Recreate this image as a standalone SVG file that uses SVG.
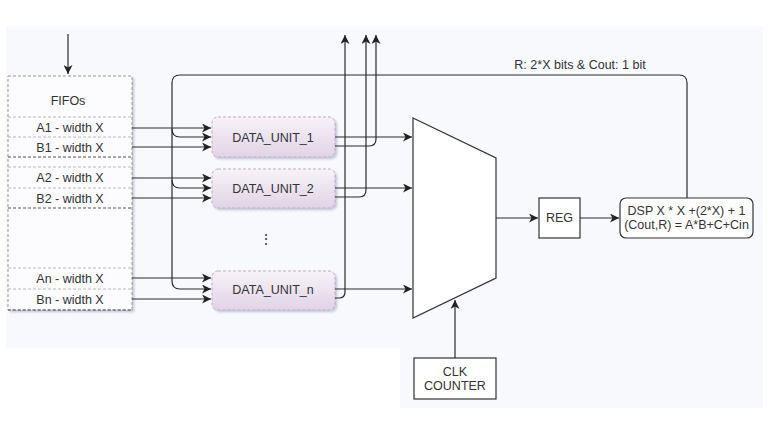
<svg xmlns="http://www.w3.org/2000/svg" width="768" height="432" viewBox="0 0 768 432">
<defs>
<marker id="arr" markerWidth="10" markerHeight="9" refX="9" refY="4.5" orient="auto" markerUnits="userSpaceOnUse">
<path d="M0,0 L9,4.5 L0,9 L2.5,4.5 z" fill="#222"/>
</marker>
<linearGradient id="du" x1="0" y1="0" x2="0" y2="1">
<stop offset="0" stop-color="#f7f3f8"/>
<stop offset="1" stop-color="#e0d3e6"/>
</linearGradient>
<filter id="sh" x="-10%" y="-10%" width="130%" height="140%">
<feDropShadow dx="2" dy="2" stdDeviation="1.2" flood-color="#8890b0" flood-opacity="0.45"/>
</filter>
<style>
text{font-family:"Liberation Sans",Arial,sans-serif;font-size:12.5px;fill:#333;text-anchor:middle}
.ln{fill:none;stroke:#2a2a2a;stroke-width:1.2}
.box{fill:#fff;stroke:#333;stroke-width:1.2}
.du{fill:url(#du);stroke:#c3a9cc;stroke-width:1;stroke-dasharray:3,2}
.sep{stroke:#b8b8b8;stroke-width:1;stroke-dasharray:3,2}
.sepd{stroke:#555;stroke-width:1;stroke-dasharray:3,2}
</style>
</defs>
<rect x="6" y="26" width="757" height="322" fill="#f8f9fd"/>
<rect x="400" y="340" width="363" height="68" fill="#f8f9fd"/>

<g id="fifos">
<rect x="8" y="76" width="124" height="234" fill="#fcfcfe" stroke="#999" stroke-width="1" stroke-dasharray="3,2" filter="url(#sh)"/>
<text x="68" y="105">FIFOs</text>
<line class="sep" x1="8" y1="117" x2="132" y2="117"/>
<line class="sep" x1="8" y1="137" x2="132" y2="137"/>
<line class="sepd" x1="8" y1="157" x2="132" y2="157"/>
<line class="sep" x1="8" y1="167" x2="132" y2="167"/>
<line class="sep" x1="8" y1="188" x2="132" y2="188"/>
<line class="sepd" x1="8" y1="208" x2="132" y2="208"/>
<line class="sep" x1="8" y1="268" x2="132" y2="268"/>
<line class="sep" x1="8" y1="289" x2="132" y2="289"/>
<line class="sepd" x1="8" y1="310" x2="132" y2="310"/>
<text x="70" y="132">A1 - width X</text>
<text x="70" y="152">B1 - width X</text>
<text x="70" y="182">A2 - width X</text>
<text x="70" y="203">B2 - width X</text>
<text x="70" y="283">An - width X</text>
<text x="70" y="304">Bn - width X</text>
</g>

<g id="du1">
<rect class="du" x="212" y="117" width="123" height="40" rx="6" filter="url(#sh)"/>
<text x="273" y="141.5">DATA_UNIT_1</text>
</g>
<g id="du2">
<rect class="du" x="212" y="169" width="123" height="39" rx="6" filter="url(#sh)"/>
<text x="273" y="193">DATA_UNIT_2</text>
</g>
<g id="dots">
<text x="266" y="244" style="font-size:14px">⋮</text>
</g>
<g id="dun">
<rect class="du" x="212" y="271" width="123" height="39" rx="6" filter="url(#sh)"/>
<text x="273" y="294">DATA_UNIT_n</text>
</g>

<g id="mux">
<path d="M413,118 L496,158 L496,278 L413,318 Z" fill="#fff" stroke="#333" stroke-width="1.2"/>
</g>
<g id="reg">
<rect class="box" x="539" y="198" width="41" height="40"/>
<text x="559.5" y="222">REG</text>
</g>
<g id="dsp">
<rect class="box" x="620" y="198" width="133" height="40" rx="6"/>
<text x="686.5" y="215">DSP X * X +(2*X) + 1</text>
<text x="686.5" y="229">(Cout,R) = A*B+C+Cin</text>
</g>
<g id="clk">
<rect class="box" x="414" y="358" width="82" height="41"/>
<text x="455" y="376">CLK</text>
<text x="455" y="390">COUNTER</text>
</g>

<g id="connectors">
<path class="ln" d="M68,34 V74" marker-end="url(#arr)"/>
<path class="ln" d="M132,128 H211" marker-end="url(#arr)"/>
<path class="ln" d="M132,147 H211" marker-end="url(#arr)"/>
<path class="ln" d="M132,178 H211" marker-end="url(#arr)"/>
<path class="ln" d="M132,198 H211" marker-end="url(#arr)"/>
<path class="ln" d="M132,278 H211" marker-end="url(#arr)"/>
<path class="ln" d="M132,299 H211" marker-end="url(#arr)"/>
<path class="ln" d="M687,198 V83 Q687,75 679,75 H180 Q172,75 172,83 V281 Q172,289 180,289 H211" marker-end="url(#arr)"/>
<path class="ln" d="M172,129 Q172,137 180,137 H211" marker-end="url(#arr)"/>
<path class="ln" d="M172,180 Q172,188 180,188 H211" marker-end="url(#arr)"/>
<path class="ln" d="M335,137 H412" marker-end="url(#arr)"/>
<path class="ln" d="M335,188 H412" marker-end="url(#arr)"/>
<path class="ln" d="M335,289 H412" marker-end="url(#arr)"/>
<path class="ln" d="M335,146 H369 Q376,146 376,139 V35" marker-end="url(#arr)"/>
<path class="ln" d="M335,197 H359 Q366,197 366,190 V35" marker-end="url(#arr)"/>
<path class="ln" d="M335,298 H339 Q345,298 345,292 V35" marker-end="url(#arr)"/>
<path class="ln" d="M496,218 H538" marker-end="url(#arr)"/>
<path class="ln" d="M580,218 H619" marker-end="url(#arr)"/>
<path class="ln" d="M455,358 V300" marker-end="url(#arr)"/>
<text x="580" y="69">R: 2*X bits &amp; Cout: 1 bit</text>
</g>
</svg>
